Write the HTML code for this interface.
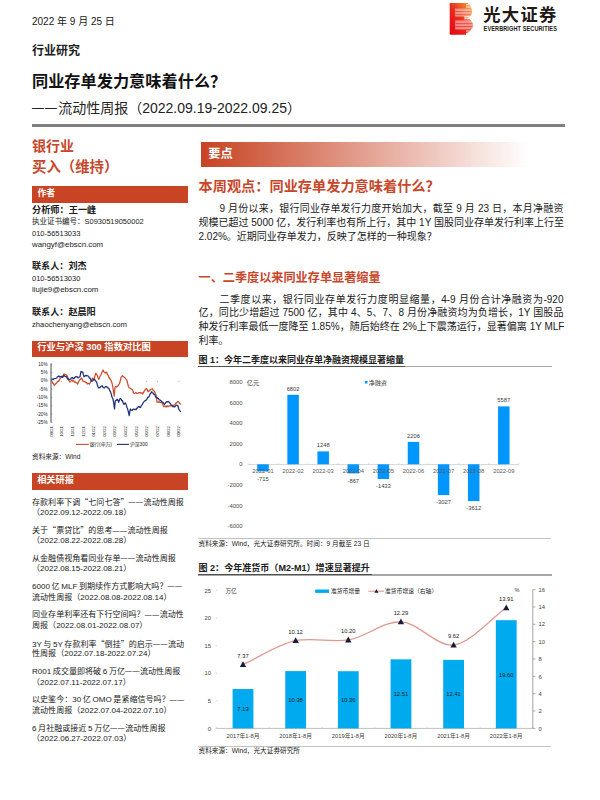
<!DOCTYPE html>
<html lang="zh-CN">
<head>
<meta charset="utf-8">
<title>同业存单发力意味着什么？</title>
<style>
html,body{margin:0;padding:0;background:#fff;}
body{width:600px;height:800px;position:relative;overflow:hidden;
  font-family:"Liberation Sans","Noto Sans CJK SC",sans-serif;color:#202020;}
.t{position:absolute;white-space:nowrap;line-height:1;margin:0;padding:0;}
.b{font-weight:bold;}
.o{color:#c8472b;}
.bar{position:absolute;background:#c84424;}
.w{color:#fff;}
.j{position:absolute;line-height:1;text-align:justify;text-align-last:justify;white-space:nowrap;}
.s8{font-size:8.05px;word-spacing:-0.6px;}
.q{font-family:"Noto Sans CJK SC",sans-serif;}
.d{font-size:0.85em;letter-spacing:0.1em;position:relative;top:-0.09em;}
.s75{font-size:7.5px;}
.s10{font-size:10px;}
svg{position:absolute;left:0;top:0;}
svg text{font-family:"Liberation Sans","Noto Sans CJK SC",sans-serif;}
</style>
</head>
<body>

<!-- ===== header ===== -->
<div class="t" style="left:32px;top:16.5px;font-size:10px;">2022 年 9 月 25 日</div>
<div class="t b" style="left:32px;top:45px;font-size:12px;">行业研究</div>
<div class="t b" style="left:32px;top:73px;font-size:16.2px;color:#111;">同业存单发力意味着什么？</div>
<div class="t" style="left:32px;top:101px;font-size:14px;color:#222;"><span class="d">——</span>流动性周报（2022.09.19-2022.09.25）</div>
<div class="bar" style="left:32px;top:124px;width:533px;height:3px;background:#7f7f7f;"></div>

<!-- BEGIN LOGO -->
<!-- ===== logo ===== -->
<svg width="600" height="40" viewBox="0 0 600 40">
<defs><linearGradient id="lg" x1="0" y1="1" x2="1" y2="0"><stop offset="0" stop-color="#e50012"/><stop offset="0.5" stop-color="#e8301c"/><stop offset="1" stop-color="#f7a632"/></linearGradient><clipPath id="lobes"><path d="M455.3 8 H471.2 Q473.6 12.2 470.2 16.3 H455.3 Z M455.3 20.3 H470.5 Q475.2 25 471.2 29.6 Q469.5 32.6 466 33.6 V29.3 H455.3 Z"/></clipPath></defs>
<path d="M449.7 3 H467.8 L468.4 4 H466 V4.7 H470 L470.6 5.7 H466 V6.5 H471 L471.3 7.5 H466 V8 H455.3 V16.3 H464.3 V17.6 H468.5 V18.3 H464.3 V19.2 H470 V20 H464.3 V20.3 H455.3 V29.3 H466 V34.7 H449.7 Z" fill="url(#lg)"/>
<g clip-path="url(#lobes)">
<rect x="455" y="8" width="22" height="27" fill="url(#lg)" opacity="0.85"/>
<rect x="455.3" y="8.90" width="22" height="0.6" fill="#fff" opacity="0.7"/>
<rect x="455.3" y="10.40" width="22" height="0.6" fill="#fff" opacity="0.7"/>
<rect x="455.3" y="11.90" width="22" height="0.6" fill="#fff" opacity="0.7"/>
<rect x="455.3" y="13.40" width="22" height="0.6" fill="#fff" opacity="0.7"/>
<rect x="455.3" y="14.90" width="22" height="0.6" fill="#fff" opacity="0.7"/>
<rect x="455.3" y="16.40" width="22" height="0.6" fill="#fff" opacity="0.7"/>
<rect x="455.3" y="17.90" width="22" height="0.6" fill="#fff" opacity="0.7"/>
<rect x="455.3" y="19.40" width="22" height="0.6" fill="#fff" opacity="0.7"/>
<rect x="455.3" y="20.90" width="22" height="0.6" fill="#fff" opacity="0.7"/>
<rect x="455.3" y="22.40" width="22" height="0.6" fill="#fff" opacity="0.7"/>
<rect x="455.3" y="23.90" width="22" height="0.6" fill="#fff" opacity="0.7"/>
<rect x="455.3" y="25.40" width="22" height="0.6" fill="#fff" opacity="0.7"/>
<rect x="455.3" y="26.90" width="22" height="0.6" fill="#fff" opacity="0.7"/>
<rect x="455.3" y="28.40" width="22" height="0.6" fill="#fff" opacity="0.7"/>
<rect x="455.3" y="29.90" width="22" height="0.6" fill="#fff" opacity="0.7"/>
<rect x="455.3" y="31.40" width="22" height="0.6" fill="#fff" opacity="0.7"/>
<rect x="455.3" y="32.90" width="22" height="0.6" fill="#fff" opacity="0.7"/>
</g>
<text x="483.2" y="21.2" font-size="17.3" font-weight="bold" fill="#231815" letter-spacing="1.35">光大证券</text>
<text x="0" y="0" font-size="6.5" font-weight="bold" fill="#231815" transform="translate(483.6 31.3) scale(0.86 1)" letter-spacing="0.1">EVERBRIGHT SECURITIES</text>
</svg>
<!-- END LOGO -->
<!-- ===== left column ===== -->
<div class="t b o" style="left:32px;top:139px;font-size:14px;">银行业</div>
<div class="t b o" style="left:32px;top:160.3px;font-size:14.4px;">买入（维持）</div>
<div class="bar" style="left:32px;top:185.5px;width:155.5px;height:17px;"></div>
<div class="t b w" style="left:37.5px;top:188.7px;font-size:8.8px;">作者</div>

<div class="t b" style="left:32px;top:205.7px;font-size:9.2px;">分析师：王一峰</div>
<div class="t s75" style="left:32px;top:218.1px;">执业证书编号：S0930519050002</div>
<div class="t s75" style="left:32px;top:229.8px;">010-56513033</div>
<div class="t" style="left:32px;top:240.9px;font-size:7.9px;">wangyf@ebscn.com</div>

<div class="t b" style="left:32px;top:262px;font-size:9.1px;">联系人：刘杰</div>
<div class="t s75" style="left:32px;top:274.7px;">010-56513030</div>
<div class="t" style="left:32px;top:286.3px;font-size:7.9px;">liujie9@ebscn.com</div>

<div class="t b" style="left:32px;top:307.5px;font-size:9.1px;">联系人：赵晨阳</div>
<div class="t" style="left:32px;top:320.8px;font-size:7.7px;">zhaochenyang@ebscn.com</div>

<div class="bar" style="left:32px;top:341px;width:156px;height:15.8px;"></div>
<div class="t b w" style="left:37.2px;top:343.1px;font-size:9.3px;">行业与沪深 300 指数对比图</div>
<div class="t" style="left:32px;top:453.5px;font-size:6.65px;">资料来源：Wind</div>

<div class="bar" style="left:32px;top:472.8px;width:156px;height:17.2px;"></div>
<div class="t b w" style="left:37.2px;top:476px;font-size:9.2px;">相关研报</div>

<div class="t s8" style="left:32px;top:498.1px;">存款利率下调<span class="q">“</span>七问七答<span class="q">”</span><span class="d">——</span>流动性周报</div>
<div class="t s8" style="left:32px;top:508.7px;">（2022.09.12-2022.09.18）</div>
<div class="t s8" style="left:32px;top:526.4px;">关于<span class="q">“</span>票贷比<span class="q">”</span>的思考<span class="d">——</span>流动性周报</div>
<div class="t s8" style="left:32px;top:537.1px;">（2022.08.22-2022.08.28）</div>
<div class="t s8" style="left:32px;top:554.7px;">从金融债视角看同业存单<span class="d">——</span>流动性周报</div>
<div class="t s8" style="left:32px;top:565.4px;">（2022.08.15-2022.08.21）</div>
<div class="t s8" style="left:32px;top:583.1px;">6000 亿 MLF 到期续作方式影响大吗？<span class="d">——</span></div>
<div class="t s8" style="left:32px;top:593.7px;">流动性周报（2022.08.08-2022.08.14）</div>
<div class="t s8" style="left:32px;top:611.4px;">同业存单利率还有下行空间吗？<span class="d">——</span>流动性</div>
<div class="t s8" style="left:32px;top:622.1px;">周报（2022.08.01-2022.08.07）</div>
<div class="t s8" style="left:32px;top:639.7px;">3Y 与 5Y 存款利率<span class="q">“</span>倒挂<span class="q">”</span>的启示<span class="d">——</span>流动</div>
<div class="t s8" style="left:32px;top:650.4px;">性周报（2022.07.18-2022.07.24）</div>
<div class="t s8" style="left:32px;top:668.1px;">R001 成交量即将破 6 万亿<span class="d">——</span>流动性周报</div>
<div class="t s8" style="left:32px;top:678.7px;">（2022.07.11-2022.07.17）</div>
<div class="t s8" style="left:32px;top:696.4px;">以史鉴今：30 亿 OMO 是紧缩信号吗？<span class="d">——</span></div>
<div class="t s8" style="left:32px;top:707.1px;">流动性周报（2022.07.04-2022.07.10）</div>
<div class="t s8" style="left:32px;top:724.7px;">6 月社融或接近 5 万亿<span class="d">——</span>流动性周报</div>
<div class="t s8" style="left:32px;top:735.4px;">（2022.06.27-2022.07.03）</div>

<!-- ===== right column ===== -->
<div class="bar" style="left:201px;top:142.2px;width:328px;height:24.4px;background:linear-gradient(90deg,#c84424 0%,#c84424 1%,#ffffff 100%);"></div>
<div class="t b w" style="left:208.3px;top:148.4px;font-size:12.2px;">要点</div>
<div class="t b o" style="left:198.5px;top:178.5px;font-size:14.2px;">本周观点：同业存单发力意味着什么？</div>

<div class="j s10" style="left:219.5px;top:203.7px;width:344px;">9 月份以来，银行同业存单发行力度开始加大，截至 9 月 23 日，本月净融资</div>
<div class="j s10" style="left:198.5px;top:217.6px;width:365px;">规模已超过 5000 亿，发行利率也有所上行，其中 1Y 国股同业存单发行利率上行至</div>
<div class="t s10" style="left:198.5px;top:231.6px;">2.02%。近期同业存单发力，反映了怎样的一种现象？</div>

<div class="t b o" style="left:198.5px;top:271.8px;font-size:12.15px;">一、二季度以来同业存单显著缩量</div>

<div class="j s10" style="left:219.5px;top:294.9px;width:344px;">二季度以来，银行同业存单发行力度明显缩量，4-9 月份合计净融资为-920</div>
<div class="j s10" style="left:198.5px;top:308.2px;width:365px;">亿，同比少增超过 7500 亿，其中 4、5、7、8 月份净融资均为负增长，1Y 国股品</div>
<div class="j s10" style="left:198.5px;top:321.8px;width:365px;">种发行利率最低一度降至 1.85%，随后始终在 2%上下震荡运行，显著偏离 1Y MLF</div>
<div class="t s10" style="left:198.5px;top:336px;">利率。</div>

<div class="t b" style="left:198.5px;top:356.3px;font-size:9px;">图 1：今年二季度以来同业存单净融资规模显著缩量</div>
<div class="bar" style="left:198px;top:366.1px;width:353.5px;height:1.4px;background:#a6a6a6;"></div>
<div class="bar" style="left:198px;top:365.9px;width:207px;height:0.9px;background:#505050;"></div>
<div class="bar" style="left:198px;top:538px;width:353px;height:1.4px;background:#c2c2c2;"></div>
<div class="t" style="left:198.5px;top:540.7px;font-size:6.65px;">资料来源：Wind，光大证券研究所。时间：9 月截至 23 日</div>

<div class="t b" style="left:198.5px;top:563.6px;font-size:9.05px;">图 2：今年准货币（M2-M1）增速显著提升</div>
<div class="bar" style="left:198px;top:574.3px;width:353.5px;height:1.4px;background:#a6a6a6;"></div>
<div class="bar" style="left:198px;top:574.1px;width:174px;height:0.9px;background:#505050;"></div>
<div class="bar" style="left:198px;top:746px;width:353px;height:1.4px;background:#c2c2c2;"></div>
<div class="t" style="left:198.5px;top:748.1px;font-size:6.65px;">资料来源：Wind，光大证券研究所</div>

<!-- BEGIN CHARTS -->
<!-- ===== chart: industry vs CSI300 ===== -->
<svg width="200" height="460" viewBox="0 0 200 460">
<line x1="51" y1="363.5" x2="51" y2="422.5" stroke="#595959" stroke-width="1.1"/>
<text x="47.5" y="365.6" font-size="4.6" text-anchor="end" fill="#222">10%</text>
<line x1="51" y1="364.0" x2="52.3" y2="364.0" stroke="#595959" stroke-width="0.5"/>
<text x="47.5" y="374.0" font-size="4.6" text-anchor="end" fill="#222">5%</text>
<line x1="51" y1="372.4" x2="52.3" y2="372.4" stroke="#595959" stroke-width="0.5"/>
<text x="47.5" y="382.3" font-size="4.6" text-anchor="end" fill="#222">0%</text>
<line x1="51" y1="380.7" x2="52.3" y2="380.7" stroke="#595959" stroke-width="0.5"/>
<text x="47.5" y="390.7" font-size="4.6" text-anchor="end" fill="#222">-5%</text>
<line x1="51" y1="389.1" x2="52.3" y2="389.1" stroke="#595959" stroke-width="0.5"/>
<text x="47.5" y="399.0" font-size="4.6" text-anchor="end" fill="#222">-10%</text>
<line x1="51" y1="397.4" x2="52.3" y2="397.4" stroke="#595959" stroke-width="0.5"/>
<text x="47.5" y="407.4" font-size="4.6" text-anchor="end" fill="#222">-15%</text>
<line x1="51" y1="405.8" x2="52.3" y2="405.8" stroke="#595959" stroke-width="0.5"/>
<text x="47.5" y="415.7" font-size="4.6" text-anchor="end" fill="#222">-20%</text>
<line x1="51" y1="414.1" x2="52.3" y2="414.1" stroke="#595959" stroke-width="0.5"/>
<text x="47.5" y="424.1" font-size="4.6" text-anchor="end" fill="#222">-25%</text>
<line x1="51" y1="422.4" x2="52.3" y2="422.4" stroke="#595959" stroke-width="0.5"/>
<text font-size="4.3" fill="#111" text-anchor="end" transform="translate(52.5 426) rotate(-90)">09/21</text>
<text font-size="4.3" fill="#111" text-anchor="end" transform="translate(63.1 426) rotate(-90)">10/21</text>
<text font-size="4.3" fill="#111" text-anchor="end" transform="translate(73.8 426) rotate(-90)">11/21</text>
<text font-size="4.3" fill="#111" text-anchor="end" transform="translate(84.5 426) rotate(-90)">12/21</text>
<text font-size="4.3" fill="#111" text-anchor="end" transform="translate(95.1 426) rotate(-90)">01/22</text>
<text font-size="4.3" fill="#111" text-anchor="end" transform="translate(105.8 426) rotate(-90)">02/22</text>
<text font-size="4.3" fill="#111" text-anchor="end" transform="translate(116.4 426) rotate(-90)">03/22</text>
<text font-size="4.3" fill="#111" text-anchor="end" transform="translate(127.0 426) rotate(-90)">04/22</text>
<text font-size="4.3" fill="#111" text-anchor="end" transform="translate(137.7 426) rotate(-90)">05/22</text>
<text font-size="4.3" fill="#111" text-anchor="end" transform="translate(148.4 426) rotate(-90)">06/22</text>
<text font-size="4.3" fill="#111" text-anchor="end" transform="translate(159.0 426) rotate(-90)">07/22</text>
<text font-size="4.3" fill="#111" text-anchor="end" transform="translate(169.7 426) rotate(-90)">08/22</text>
<text font-size="4.3" fill="#111" text-anchor="end" transform="translate(180.3 426) rotate(-90)">09/22</text>
<circle cx="61.6" cy="381.3" r="0.45" fill="#555"/>
<circle cx="146.8" cy="381.3" r="0.45" fill="#555"/>
<circle cx="157.3" cy="381.3" r="0.45" fill="#555"/>
<circle cx="179" cy="381.3" r="0.45" fill="#555"/>
<polyline points="51.3,380.0 52.0,381.4 52.7,383.3 53.4,383.4 54.0,384.9 54.7,385.3 55.4,383.8 56.0,383.6 56.7,382.7 57.4,382.0 58.0,381.1 58.7,381.3 59.4,380.2 60.0,378.4 60.7,378.0 61.4,377.7 62.0,376.9 62.7,377.3 63.4,375.0 64.0,374.0 64.7,374.1 65.3,375.0 66.0,374.7 66.7,375.2 67.3,376.5 68.0,378.0 68.7,379.5 69.3,381.3 70.0,382.0 70.7,381.4 71.3,380.5 72.0,380.0 72.7,381.1 73.3,380.2 74.0,381.3 74.7,382.3 75.3,381.9 76.0,382.7 76.8,382.8 77.7,384.0 78.5,381.8 79.3,380.7 80.0,379.5 80.6,379.4 81.3,378.0 82.0,378.6 82.6,380.3 83.3,381.3 84.0,381.7 84.6,381.6 85.3,382.0 86.0,382.7 86.6,382.7 87.3,384.0 88.0,383.3 88.6,383.6 89.3,384.0 90.0,383.2 90.6,381.7 91.3,380.7 92.0,379.1 92.7,378.0 93.3,379.1 94.0,380.0 94.8,376.6 95.7,373.3 96.5,374.0 97.3,375.3 98.0,377.7 98.7,379.3 99.4,378.3 100.0,376.2 100.7,375.3 101.5,373.6 102.2,371.8 103.0,370.0 103.7,371.6 104.5,372.3 105.2,373.0 106.0,372.3 106.7,372.2 107.5,374.7 108.2,375.2 109.0,377.5 109.7,378.4 110.5,379.9 111.2,380.5 112.0,383.0 112.7,386.5 113.5,391.3 114.2,396.2 115.0,387.2 115.7,386.3 116.5,387.0 117.2,386.5 118.0,385.9 118.7,384.6 119.5,383.5 120.2,381.1 121.0,377.5 121.8,376.3 122.5,375.7 123.2,376.6 124.0,377.0 124.7,377.5 125.5,378.6 126.2,379.4 127.0,380.5 127.8,384.0 128.5,386.5 129.2,387.9 130.0,388.0 130.7,388.5 131.5,389.2 132.2,389.5 132.9,390.7 133.7,393.2 134.5,393.3 135.2,393.0 136.0,392.5 136.7,393.5 137.5,393.4 138.2,393.2 139.0,392.6 139.7,392.6 140.5,392.5 141.2,393.3 142.0,392.8 142.7,394.0 143.5,392.7 144.2,391.0 145.0,390.2 145.8,388.9 146.5,388.7 147.2,389.5 148.0,391.7 148.7,391.6 149.5,390.1 150.2,390.2 150.9,389.3 151.5,389.0 152.2,388.7 153.1,390.4 154.0,391.0 154.7,391.9 155.5,393.9 156.2,395.5 157.0,402.2 157.7,402.0 158.5,402.3 159.2,401.5 160.0,402.2 160.7,402.5 161.5,402.2 162.2,403.4 163.0,405.1 163.7,406.7 164.5,406.3 165.2,406.8 166.0,406.0 166.7,406.9 167.5,405.9 168.2,406.7 169.0,406.0 169.7,405.8 170.5,406.0 171.2,405.8 172.0,406.4 172.7,406.7 173.5,406.1 174.2,404.9 175.0,404.5 175.8,403.0 176.5,403.0 177.2,402.1 178.0,401.5 178.8,402.1 179.5,403.0 180.2,403.8 181.0,404.5" fill="none" stroke="#cf4a2b" stroke-width="1.25" stroke-linejoin="round"/>
<polyline points="51.3,379.3 52.0,379.1 52.6,379.1 53.3,379.5 54.0,378.7 54.7,378.5 55.4,378.4 56.0,378.3 56.7,378.0 57.4,376.9 58.0,376.7 58.7,376.0 59.4,376.4 60.0,376.9 60.7,376.7 61.4,376.3 62.0,376.8 62.7,377.3 63.4,375.7 64.0,375.3 64.7,376.2 65.3,376.5 66.0,376.7 66.7,376.7 67.3,378.8 68.0,378.7 68.7,379.6 69.3,379.3 70.0,379.3 70.7,379.0 71.3,377.9 72.0,378.0 72.7,377.5 73.3,378.5 74.0,378.7 74.7,377.4 75.3,376.9 76.0,376.7 76.7,376.7 77.3,376.9 78.0,378.0 78.7,377.5 79.3,377.0 80.0,376.7 81.0,371.3 81.8,372.2 82.7,372.0 83.3,374.4 84.0,376.7 84.7,376.4 85.3,375.8 86.0,375.3 86.7,375.8 87.3,375.7 88.0,376.0 88.7,376.3 89.3,378.1 90.0,378.0 90.7,379.8 91.3,380.7 92.0,381.3 92.7,380.9 93.3,379.7 94.0,379.3 94.7,379.6 95.3,380.3 96.0,381.3 96.7,382.4 97.3,384.7 98.0,386.7 98.7,388.0 99.4,387.4 100.0,387.7 100.7,386.7 101.5,386.0 102.2,385.7 103.0,387.2 103.7,387.8 104.5,388.0 105.2,386.8 106.0,386.6 106.7,386.5 107.5,387.8 108.2,387.9 109.0,388.7 109.8,390.9 110.5,391.7 111.2,394.2 112.0,397.0 112.8,398.6 113.5,401.5 114.5,409.0 115.3,400.7 115.9,400.4 116.6,400.1 117.2,399.2 118.0,400.4 118.7,402.2 119.5,399.7 120.2,398.5 121.0,399.0 121.7,400.7 122.5,400.7 123.2,403.0 124.0,404.5 124.8,403.2 125.5,403.0 126.2,404.9 127.0,407.5 127.6,408.8 128.2,411.2 129.2,415.7 129.8,411.7 130.4,409.0 131.3,410.2 132.2,410.5 132.9,409.3 133.7,409.0 134.5,409.3 135.2,409.4 136.0,409.7 136.7,408.2 137.5,408.0 138.2,406.7 139.0,406.4 139.7,407.4 140.5,407.5 141.2,405.7 142.0,404.8 142.7,403.7 143.5,402.3 144.2,401.4 145.0,400.7 145.7,400.7 146.5,399.7 147.2,398.5 148.0,397.2 148.7,397.1 149.5,395.5 150.2,393.8 151.0,392.8 151.7,391.7 152.4,393.0 153.2,393.2 154.0,394.4 154.7,394.6 155.5,396.2 156.2,397.7 157.0,397.3 157.7,398.5 158.5,398.6 159.2,399.9 160.0,400.0 160.7,400.5 161.5,401.2 162.2,402.2 163.0,402.3 163.7,403.1 164.5,404.5 165.2,403.5 166.0,402.2 166.7,401.6 167.5,401.9 168.2,401.5 169.0,402.0 169.7,402.9 170.5,403.7 171.2,405.2 172.0,405.2 172.7,406.0 173.5,406.3 174.2,407.0 175.0,406.7 175.8,405.5 176.5,405.2 177.2,405.1 178.0,406.0 178.6,408.5 179.2,409.7 180.1,411.2 181.0,411.7" fill="none" stroke="#1c2f78" stroke-width="1.25" stroke-linejoin="round"/>
<line x1="76" y1="444.4" x2="88.7" y2="444.4" stroke="#cf4a2b" stroke-width="1.1"/>
<text x="89.5" y="446.1" font-size="4.8" fill="#111">银行(申万)</text>
<line x1="117" y1="444.4" x2="129" y2="444.4" stroke="#1c2f78" stroke-width="1.1"/>
<text x="130" y="446.1" font-size="4.8" fill="#111">沪深300</text>
</svg>
<!-- ===== chart 1: net financing ===== -->
<svg width="600" height="560" viewBox="0 0 600 560">
<text x="242.5" y="383.9" font-size="5.9" text-anchor="end" fill="#4a4a4a">8000</text>
<text x="242.5" y="404.5" font-size="5.9" text-anchor="end" fill="#4a4a4a">6000</text>
<text x="242.5" y="425.1" font-size="5.9" text-anchor="end" fill="#4a4a4a">4000</text>
<text x="242.5" y="445.7" font-size="5.9" text-anchor="end" fill="#4a4a4a">2000</text>
<text x="242.5" y="466.3" font-size="5.9" text-anchor="end" fill="#4a4a4a">0</text>
<text x="242.5" y="486.9" font-size="5.9" text-anchor="end" fill="#4a4a4a">-2000</text>
<text x="242.5" y="507.5" font-size="5.9" text-anchor="end" fill="#4a4a4a">-4000</text>
<text x="242.5" y="528.1" font-size="5.9" text-anchor="end" fill="#4a4a4a">-6000</text>
<text x="246.8" y="384.9" font-size="6.2" fill="#404040">亿元</text>
<rect x="364.9" y="380.9" width="2.6" height="2.6" fill="#0096ff"/>
<text x="368.5" y="384.6" font-size="6.2" fill="#404040">净融资</text>
<line x1="248" y1="464.5" x2="518.8" y2="464.5" stroke="#d0d0d0" stroke-width="0.8"/>
<line x1="248.0" y1="463.1" x2="248.0" y2="464.7" stroke="#d0d0d0" stroke-width="0.6"/>
<line x1="278.1" y1="463.1" x2="278.1" y2="464.7" stroke="#d0d0d0" stroke-width="0.6"/>
<line x1="308.2" y1="463.1" x2="308.2" y2="464.7" stroke="#d0d0d0" stroke-width="0.6"/>
<line x1="338.3" y1="463.1" x2="338.3" y2="464.7" stroke="#d0d0d0" stroke-width="0.6"/>
<line x1="368.4" y1="463.1" x2="368.4" y2="464.7" stroke="#d0d0d0" stroke-width="0.6"/>
<line x1="398.5" y1="463.1" x2="398.5" y2="464.7" stroke="#d0d0d0" stroke-width="0.6"/>
<line x1="428.6" y1="463.1" x2="428.6" y2="464.7" stroke="#d0d0d0" stroke-width="0.6"/>
<line x1="458.7" y1="463.1" x2="458.7" y2="464.7" stroke="#d0d0d0" stroke-width="0.6"/>
<line x1="488.8" y1="463.1" x2="488.8" y2="464.7" stroke="#d0d0d0" stroke-width="0.6"/>
<line x1="518.9" y1="463.1" x2="518.9" y2="464.7" stroke="#d0d0d0" stroke-width="0.6"/>
<rect x="257.25" y="464.30" width="11.5" height="7.00" fill="#0096ff"/>
<rect x="287.35" y="394.80" width="11.5" height="69.50" fill="#0096ff"/>
<rect x="317.45" y="451.40" width="11.5" height="12.90" fill="#0096ff"/>
<rect x="347.55" y="464.30" width="11.5" height="9.10" fill="#0096ff"/>
<rect x="377.65" y="464.30" width="11.5" height="14.70" fill="#0096ff"/>
<rect x="407.75" y="441.90" width="11.5" height="22.40" fill="#0096ff"/>
<rect x="437.85" y="464.30" width="11.5" height="30.80" fill="#0096ff"/>
<rect x="467.95" y="464.30" width="11.5" height="36.80" fill="#0096ff"/>
<rect x="498.05" y="406.40" width="11.5" height="57.90" fill="#0096ff"/>
<text x="263.0" y="473" font-size="5.8" text-anchor="middle" fill="#595959">2022-01</text>
<text x="263.0" y="480.8" font-size="5.8" text-anchor="middle" fill="#404040">-715</text>
<text x="293.1" y="473" font-size="5.8" text-anchor="middle" fill="#595959">2022-02</text>
<text x="293.1" y="390.6" font-size="5.8" text-anchor="middle" fill="#404040">6802</text>
<text x="323.2" y="473" font-size="5.8" text-anchor="middle" fill="#595959">2022-03</text>
<text x="323.2" y="447.2" font-size="5.8" text-anchor="middle" fill="#404040">1248</text>
<text x="353.3" y="473" font-size="5.8" text-anchor="middle" fill="#595959">2022-04</text>
<text x="353.3" y="482.5" font-size="5.8" text-anchor="middle" fill="#404040">-867</text>
<text x="383.4" y="473" font-size="5.8" text-anchor="middle" fill="#595959">2022-05</text>
<text x="383.4" y="488.1" font-size="5.8" text-anchor="middle" fill="#404040">-1433</text>
<text x="413.5" y="473" font-size="5.8" text-anchor="middle" fill="#595959">2022-06</text>
<text x="413.5" y="437.7" font-size="5.8" text-anchor="middle" fill="#404040">2206</text>
<text x="443.6" y="473" font-size="5.8" text-anchor="middle" fill="#595959">2022-07</text>
<text x="443.6" y="504.2" font-size="5.8" text-anchor="middle" fill="#404040">-3027</text>
<text x="473.7" y="473" font-size="5.8" text-anchor="middle" fill="#595959">2022-08</text>
<text x="473.7" y="510.2" font-size="5.8" text-anchor="middle" fill="#404040">-3612</text>
<text x="503.8" y="473" font-size="5.8" text-anchor="middle" fill="#595959">2022-09</text>
<text x="503.8" y="402.2" font-size="5.8" text-anchor="middle" fill="#404040">5587</text>
</svg>
<!-- ===== chart 2: quasi-money ===== -->
<svg width="600" height="760" viewBox="0 0 600 760">
<text x="211" y="592.5" font-size="5.8" text-anchor="end" fill="#404040">25</text>
<line x1="215.6" y1="590.4" x2="217.2" y2="590.4" stroke="#bbb" stroke-width="0.6"/>
<text x="211" y="620.1" font-size="5.8" text-anchor="end" fill="#404040">20</text>
<line x1="215.6" y1="618.0" x2="217.2" y2="618.0" stroke="#bbb" stroke-width="0.6"/>
<text x="211" y="647.7" font-size="5.8" text-anchor="end" fill="#404040">15</text>
<line x1="215.6" y1="645.6" x2="217.2" y2="645.6" stroke="#bbb" stroke-width="0.6"/>
<text x="211" y="675.3" font-size="5.8" text-anchor="end" fill="#404040">10</text>
<line x1="215.6" y1="673.2" x2="217.2" y2="673.2" stroke="#bbb" stroke-width="0.6"/>
<text x="211" y="702.9" font-size="5.8" text-anchor="end" fill="#404040">5</text>
<line x1="215.6" y1="700.8" x2="217.2" y2="700.8" stroke="#bbb" stroke-width="0.6"/>
<text x="211" y="730.5" font-size="5.8" text-anchor="end" fill="#404040">0</text>
<line x1="215.6" y1="728.4" x2="217.2" y2="728.4" stroke="#bbb" stroke-width="0.6"/>
<text x="225.5" y="592.6" font-size="5.6" fill="#404040">万亿</text>
<line x1="217" y1="728.4" x2="533" y2="728.4" stroke="#b8b8b8" stroke-width="0.9"/>
<line x1="216.8" y1="727.1" x2="216.8" y2="728.4" stroke="#b8b8b8" stroke-width="0.6"/>
<line x1="269.4" y1="727.1" x2="269.4" y2="728.4" stroke="#b8b8b8" stroke-width="0.6"/>
<line x1="322.1" y1="727.1" x2="322.1" y2="728.4" stroke="#b8b8b8" stroke-width="0.6"/>
<line x1="374.8" y1="727.1" x2="374.8" y2="728.4" stroke="#b8b8b8" stroke-width="0.6"/>
<line x1="427.4" y1="727.1" x2="427.4" y2="728.4" stroke="#b8b8b8" stroke-width="0.6"/>
<line x1="480.1" y1="727.1" x2="480.1" y2="728.4" stroke="#b8b8b8" stroke-width="0.6"/>
<line x1="532.7" y1="727.1" x2="532.7" y2="728.4" stroke="#b8b8b8" stroke-width="0.6"/>
<line x1="532.8" y1="589.5" x2="532.8" y2="728.4" stroke="#8c8c8c" stroke-width="0.8"/>
<line x1="532.8" y1="728.4" x2="535.4" y2="728.4" stroke="#8c8c8c" stroke-width="0.7"/>
<text x="538.6" y="730.5" font-size="5.8" fill="#404040">0</text>
<line x1="532.8" y1="711.0" x2="535.4" y2="711.0" stroke="#8c8c8c" stroke-width="0.7"/>
<text x="538.6" y="713.1" font-size="5.8" fill="#404040">2</text>
<line x1="532.8" y1="693.7" x2="535.4" y2="693.7" stroke="#8c8c8c" stroke-width="0.7"/>
<text x="538.6" y="695.8" font-size="5.8" fill="#404040">4</text>
<line x1="532.8" y1="676.4" x2="535.4" y2="676.4" stroke="#8c8c8c" stroke-width="0.7"/>
<text x="538.6" y="678.5" font-size="5.8" fill="#404040">6</text>
<line x1="532.8" y1="659.0" x2="535.4" y2="659.0" stroke="#8c8c8c" stroke-width="0.7"/>
<text x="538.6" y="661.1" font-size="5.8" fill="#404040">8</text>
<line x1="532.8" y1="641.6" x2="535.4" y2="641.6" stroke="#8c8c8c" stroke-width="0.7"/>
<text x="538.6" y="643.8" font-size="5.8" fill="#404040">10</text>
<line x1="532.8" y1="624.3" x2="535.4" y2="624.3" stroke="#8c8c8c" stroke-width="0.7"/>
<text x="538.6" y="626.4" font-size="5.8" fill="#404040">12</text>
<line x1="532.8" y1="607.0" x2="535.4" y2="607.0" stroke="#8c8c8c" stroke-width="0.7"/>
<text x="538.6" y="609.1" font-size="5.8" fill="#404040">14</text>
<line x1="532.8" y1="589.6" x2="535.4" y2="589.6" stroke="#8c8c8c" stroke-width="0.7"/>
<text x="538.6" y="591.7" font-size="5.8" fill="#404040">16</text>
<text x="514.6" y="592.2" font-size="5.6" fill="#404040">%</text>
<rect x="315.2" y="589.5" width="13.9" height="3.4" fill="#00aaee"/>
<text x="331" y="593.2" font-size="5.8" fill="#222">准货币增量</text>
<line x1="368.3" y1="591.2" x2="384.2" y2="591.2" stroke="#e09890" stroke-width="1.1"/>
<path d="M376.4 589.3 L378.5 592.8 H374.3 Z" fill="#1a1a3a"/>
<text x="385" y="593.2" font-size="5.8" fill="#222">准货币增速（右轴）</text>
<rect x="232.60" y="689.04" width="20.8" height="39.36" fill="#00aaee"/>
<text x="243.0" y="711.0" font-size="5.8" text-anchor="middle" fill="#1a1a1a">7.13</text>
<rect x="285.25" y="671.10" width="20.8" height="57.30" fill="#00aaee"/>
<text x="295.6" y="702.1" font-size="5.8" text-anchor="middle" fill="#1a1a1a">10.38</text>
<rect x="337.90" y="671.21" width="20.8" height="57.19" fill="#00aaee"/>
<text x="348.3" y="702.1" font-size="5.8" text-anchor="middle" fill="#1a1a1a">10.36</text>
<rect x="390.55" y="659.34" width="20.8" height="69.06" fill="#00aaee"/>
<text x="400.9" y="696.2" font-size="5.8" text-anchor="middle" fill="#1a1a1a">12.51</text>
<rect x="443.20" y="659.90" width="20.8" height="68.50" fill="#00aaee"/>
<text x="453.6" y="696.4" font-size="5.8" text-anchor="middle" fill="#1a1a1a">12.41</text>
<rect x="495.85" y="620.21" width="20.8" height="108.19" fill="#00aaee"/>
<text x="506.2" y="676.6" font-size="5.8" text-anchor="middle" fill="#1a1a1a">19.60</text>
<text x="243.0" y="737.8" font-size="5.8" text-anchor="middle" fill="#404040">2017年1-8月</text>
<text x="295.6" y="737.8" font-size="5.8" text-anchor="middle" fill="#404040">2018年1-8月</text>
<text x="348.3" y="737.8" font-size="5.8" text-anchor="middle" fill="#404040">2019年1-8月</text>
<text x="400.9" y="737.8" font-size="5.8" text-anchor="middle" fill="#404040">2020年1-8月</text>
<text x="453.6" y="737.8" font-size="5.8" text-anchor="middle" fill="#404040">2021年1-8月</text>
<text x="506.2" y="737.8" font-size="5.8" text-anchor="middle" fill="#404040">2022年1-8月</text>
<path d="M243.00 664.47 C251.78 661.28 278.10 643.88 295.65 640.61 C313.20 637.34 330.75 642.42 348.30 639.91 C365.85 637.41 383.40 621.11 400.95 621.78 C418.50 622.46 436.05 646.82 453.60 644.95 C471.15 643.07 497.48 612.69 506.25 607.73" fill="none" stroke="#e09890" stroke-width="1.3"/>
<path d="M243.00 661.17 L246.20 666.97 H239.80 Z" fill="#1a1a3a"/>
<text x="243.0" y="657.9" font-size="5.8" text-anchor="middle" fill="#1a1a1a">7.37</text>
<path d="M295.65 637.31 L298.85 643.11 H292.45 Z" fill="#1a1a3a"/>
<text x="295.6" y="634.0" font-size="5.8" text-anchor="middle" fill="#1a1a1a">10.12</text>
<path d="M348.30 636.62 L351.50 642.41 H345.10 Z" fill="#1a1a3a"/>
<text x="348.3" y="633.3" font-size="5.8" text-anchor="middle" fill="#1a1a1a">10.20</text>
<path d="M400.95 618.48 L404.15 624.28 H397.75 Z" fill="#1a1a3a"/>
<text x="400.9" y="615.2" font-size="5.8" text-anchor="middle" fill="#1a1a1a">12.29</text>
<path d="M453.60 641.65 L456.80 647.45 H450.40 Z" fill="#1a1a3a"/>
<text x="453.6" y="638.3" font-size="5.8" text-anchor="middle" fill="#1a1a1a">9.62</text>
<path d="M506.25 604.43 L509.45 610.23 H503.05 Z" fill="#1a1a3a"/>
<text x="506.2" y="601.1" font-size="5.8" text-anchor="middle" fill="#1a1a1a">13.91</text>
</svg>
<!-- END CHARTS -->

</body>
</html>
